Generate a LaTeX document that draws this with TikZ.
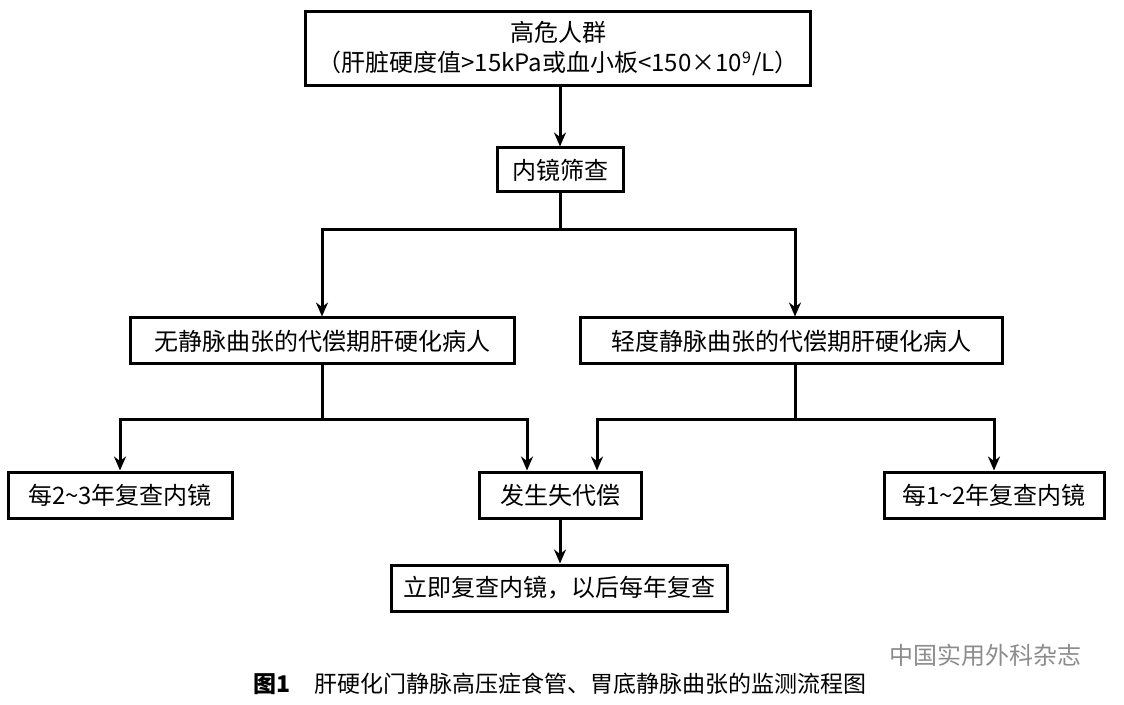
\documentclass[tikz,border=0pt]{standalone}
\usepackage{fontspec}
\setmainfont{Liberation Serif}
\newfontfamily\cjk{Noto Sans CJK SC}
\usetikzlibrary{positioning,arrows.meta}
\tikzset{
  flowbox/.style={draw, line width=1.5pt, inner xsep=6pt, inner ysep=4pt, font=\fontsize{12}{15}\selectfont\cjk, align=center},
  flowarrow/.style={line width=1.5pt, -{Stealth[length=7pt,width=6pt]}},
  flowline/.style={line width=1.5pt}
}
\begin{document}
\begin{tikzpicture}[x=0.5pt,y=-0.5pt]
\useasboundingbox (0,0) rectangle (1124,705);
% boxes
\node[flowbox, minimum width=235pt, minimum height=37pt] (risk) at (558,49) {高危人群\\（肝脏硬度值>15kPa或血小板<150×10\textsuperscript{9}/L）};
\node[flowbox, minimum width=63pt, minimum height=22pt] (screen) at (560,170) {内镜筛查};
\node[flowbox, minimum width=192pt, minimum height=23pt] (nov) at (322,341) {无静脉曲张的代偿期肝硬化病人};
\node[flowbox, minimum width=211pt, minimum height=23pt] (mild) at (791,341) {轻度静脉曲张的代偿期肝硬化病人};
\node[flowbox, minimum width=112pt, minimum height=23pt] (every23) at (120,495) {每2\textasciitilde 3年复查内镜};
\node[flowbox, minimum width=81pt, minimum height=23pt] (decomp) at (560,495) {发生失代偿};
\node[flowbox, minimum width=110pt, minimum height=23pt] (every12) at (994,495) {每1\textasciitilde 2年复查内镜};
\node[flowbox, minimum width=167pt, minimum height=23pt] (now) at (559,588) {立即复查内镜，以后每年复查};
% branch points
\coordinate (s1) at (560,230);
\coordinate (n1) at (322,420);
\coordinate (m1) at (795,420);
% connectors
\draw[flowarrow] (risk.south -| screen) -- (screen);
\draw[flowline] (screen) -- (s1);
\draw[flowarrow] (s1) -| (nov.north);
\draw[flowarrow] (s1) -| ([xshift=2pt]mild.north);
\draw[flowline] (nov) -- (n1);
\draw[flowarrow] (n1) -| (every23.north);
\draw[flowarrow] (n1) -| ([xshift=-16.5pt]decomp.north);
\draw[flowline] ([xshift=2pt]mild.south) -- (m1);
\draw[flowarrow] (m1) -| (every12.north);
\draw[flowarrow] (m1) -| ([xshift=18.5pt]decomp.north);
\draw[flowarrow] (decomp.south) -- (decomp.south |- now.north);
% caption
\node[font=\fontsize{11.5}{14}\selectfont\cjk] (caption) at (560,684) {\textbf{图1}\quad 肝硬化门静脉高压症食管、胃底静脉曲张的监测流程图};
\node[font=\fontsize{12}{14}\selectfont\cjk, text=black!45] (mark) at (985,655) {中国实用外科杂志};
\end{tikzpicture}
\end{document}
